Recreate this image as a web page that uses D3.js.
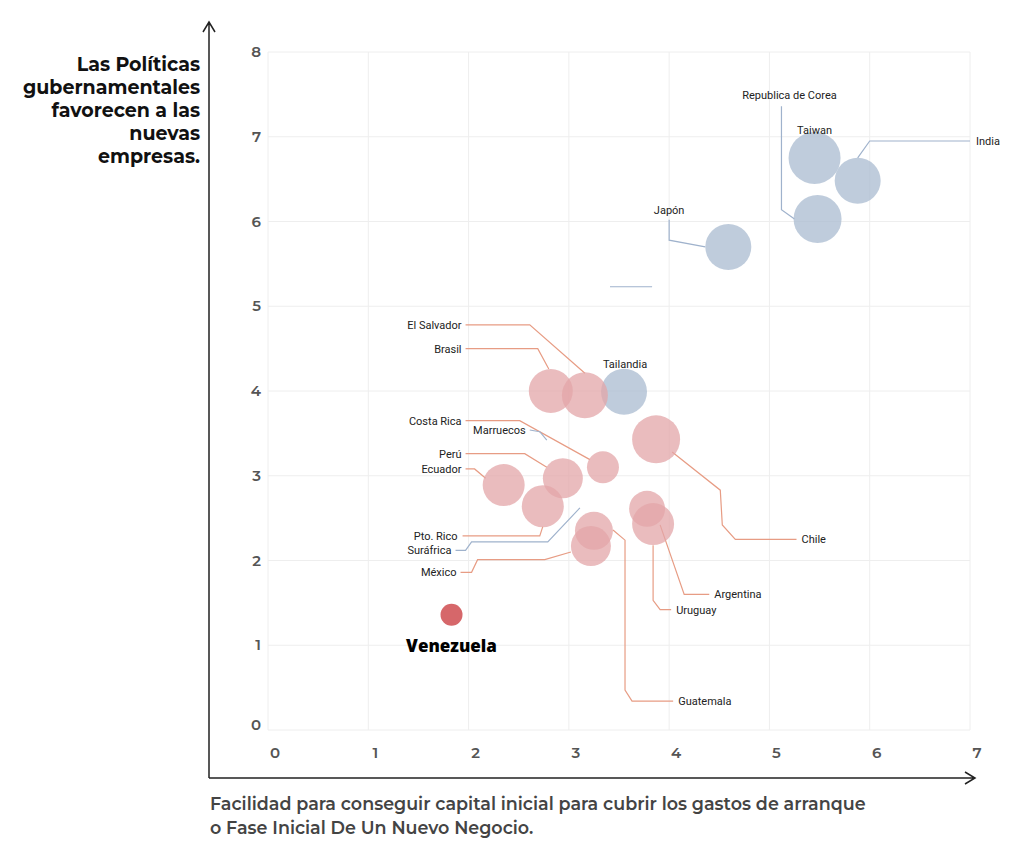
<!DOCTYPE html><html><head><meta charset="utf-8">
<script src="https://cdn.jsdelivr.net/npm/d3@7"></script>
<style>body{margin:0;background:#fff}</style></head><body>
<svg id="c" width="1024" height="857"></svg>
<script>
const countries=["Taiwan","India","Republica de Corea","Japón","Tailandia","Brasil","El Salvador","Chile","Costa Rica","Perú","Ecuador","Pto. Rico","Guatemala","México","Argentina","Uruguay","Venezuela","Marruecos","Suráfrica"];
const xVals=[5.45,5.88,5.48,4.59,3.55,2.82,3.16,3.87,3.34,2.94,2.35,2.74,3.25,3.22,3.78,3.84,1.83,2.78,3.11];
const yVals=[6.75,6.48,6.03,5.70,3.99,4.00,3.95,3.43,3.10,2.97,2.89,2.64,2.35,2.17,2.61,2.43,1.36,3.42,2.62];
const sizes=[26,23,24,23,23,22,23,24,16,20,21,21,19,20,18,21,11,0,0];
const groups=["asia","asia","asia","asia","asia","lat","lat","lat","lat","lat","lat","lat","lat","lat","lat","lat","ven","lat","asia"];
const xTicks=[0,1,2,3,4,5,6,7], yTicks=[0,1,2,3,4,5,6,7,8];
// label anchors and leader paths (data units)
const labelPos={"Republica de Corea":[5.2,7.49,"middle"],"Taiwan":[5.45,7.08,"middle"],"India":[7.06,6.95,"start"],"Japón":[4.0,6.13,"middle"],"Tailandia":[3.56,4.32,"middle"],"El Salvador":[1.93,4.78,"end"],"Brasil":[1.93,4.5,"end"],"Costa Rica":[1.93,3.65,"end"],"Marruecos":[2.57,3.54,"end"],"Perú":[1.93,3.26,"end"],"Ecuador":[1.93,3.08,"end"],"Pto. Rico":[1.89,2.29,"end"],"Suráfrica":[1.83,2.12,"end"],"México":[1.88,1.86,"end"],"Chile":[5.32,2.25,"start"],"Argentina":[4.45,1.60,"start"],"Uruguay":[4.07,1.42,"start"],"Guatemala":[4.09,0.34,"start"]};
const leaders={"Republica de Corea":[[5.12,7.36],[5.12,6.14],[5.25,6.03]],"India":[[7.0,6.95],[6.0,6.95],[5.88,6.75]],"Japón":[[4.0,6.02],[4.0,5.78],[4.36,5.70]],"El Salvador":[[1.97,4.78],[2.61,4.78],[3.16,4.21]],"Brasil":[[1.97,4.5],[2.69,4.5],[2.8,4.26]],"Costa Rica":[[1.97,3.65],[2.51,3.65],[3.21,3.19]],"Marruecos":[[2.61,3.54],[2.71,3.52],[2.78,3.42]],"Perú":[[1.97,3.26],[2.56,3.26],[2.78,3.10]],"Ecuador":[[1.97,3.08],[2.06,3.08],[2.17,2.97]],"Pto. Rico":[[1.94,2.29],[2.71,2.29],[2.74,2.40]],"Suráfrica":[[1.87,2.12],[1.97,2.12],[2.03,2.22],[2.79,2.22],[3.11,2.62]],"México":[[1.92,1.86],[2.03,1.86],[2.09,2.01],[2.76,2.01],[3.02,2.10]],"Chile":[[5.27,2.25],[4.66,2.25],[4.53,2.42],[4.51,2.83],[4.03,3.28]],"Argentina":[[4.40,1.60],[4.15,1.60],[3.91,2.42]],"Uruguay":[[4.02,1.42],[3.91,1.42],[3.84,1.53],[3.84,2.18]],"Guatemala":[[4.04,0.34],[3.63,0.34],[3.56,0.47],[3.56,2.24],[3.44,2.36]],"stray":[[3.41,5.23],[3.83,5.23]]};
const leaderGroup={"Republica de Corea":"asia","India":"asia","Japón":"asia","Marruecos":"asia","Suráfrica":"asia","stray":"asia"};

const svg=d3.select("#c");
const x=d3.scaleLinear().domain([0,7]).range([268,970]);
const y=d3.scaleLinear().domain([0,8]).range([730,52]);
const r=d3.scaleLinear().domain([0,26]).range([0,26]);
const fill={asia:"#a9bbd0",lat:"#e3a6a8",ven:"#d45f62"};
const lineCol={asia:"#9fb2cc",lat:"#e79c84"};
// grid
svg.append("g").selectAll("line").data(xTicks).join("line").attr("x1",d=>x(d)).attr("x2",d=>x(d)).attr("y1",y(8)).attr("y2",y(0)).attr("stroke","#eeeeee");
svg.append("g").selectAll("line").data(yTicks).join("line").attr("y1",d=>y(d)).attr("y2",d=>y(d)).attr("x1",x(0)).attr("x2",x(7)).attr("stroke","#eeeeee");
const tf="Montserrat, 'Open Sans', sans-serif";
svg.append("g").selectAll("text").data(xTicks).join("text").attr("x",d=>x(d)+7).attr("y",758).attr("text-anchor","middle").attr("font-family",tf).attr("font-weight",600).attr("font-size",15).attr("fill","#555").text(d=>d);
svg.append("g").selectAll("text").data(yTicks).join("text").attr("x",261).attr("y",d=>(d===0?y(d)-5:y(d))+5).attr("text-anchor","end").attr("font-family",tf).attr("font-weight",600).attr("font-size",15).attr("fill","#555").text(d=>d);
// axes
svg.append("path").attr("d","M209,778V22M203,32L209,22L215,32").attr("fill","none").attr("stroke","#222").attr("stroke-width",1.5);
svg.append("path").attr("d","M209,778H975M965,772L975,778L965,784").attr("fill","none").attr("stroke","#222").attr("stroke-width",1.5);
// titles
const yt=["Las Políticas","gubernamentales","favorecen a las","nuevas","empresas."];
svg.append("g").selectAll("text").data(yt).join("text").attr("x",200).attr("y",(d,i)=>71+i*23).attr("text-anchor","end").attr("font-family",tf).attr("font-weight",700).attr("font-size",19).attr("fill","#111").text(d=>d);
const xt=["Facilidad para conseguir capital inicial para cubrir los gastos de arranque","o Fase Inicial De Un Nuevo Negocio."];
svg.append("g").selectAll("text").data(xt).join("text").attr("x",210).attr("y",(d,i)=>810+i*24).attr("font-family",tf).attr("font-weight",600).attr("font-size",17.5).attr("fill","#444").text(d=>d);
// leaders
const ln=d3.line().x(d=>x(d[0])).y(d=>y(d[1])).curve(d3.curveLinear);
svg.append("g").selectAll("path").data(Object.entries(leaders)).join("path").attr("d",d=>ln(d[1])).attr("fill","none").attr("stroke",d=>lineCol[leaderGroup[d[0]]||"lat"]).attr("stroke-width",1.2);
// bubbles
const data=countries.map((c,i)=>({c,x:xVals[i],y:yVals[i],s:sizes[i],g:groups[i]})).filter(d=>d.s>0);
svg.append("g").selectAll("circle").data(data).join("circle").attr("cx",d=>x(d.x)).attr("cy",d=>y(d.y)).attr("r",d=>r(d.s)).attr("fill",d=>fill[d.g]).attr("fill-opacity",d=>d.g==="ven"?0.95:0.75);
// labels
svg.append("g").selectAll("text").data(Object.entries(labelPos)).join("text").attr("x",d=>x(d[1][0])).attr("y",d=>y(d[1][1])+4).attr("text-anchor",d=>d[1][2]).attr("font-family","Roboto, sans-serif").attr("font-size",11).attr("fill","#222").text(d=>d[0]);
svg.append("text").attr("x",x(1.83)).attr("y",y(0.99)+6).attr("text-anchor","middle").attr("font-family","'Open Sans', sans-serif").attr("font-weight",800).attr("font-size",17).attr("fill","#000").text("Venezuela");
</script></body></html>
